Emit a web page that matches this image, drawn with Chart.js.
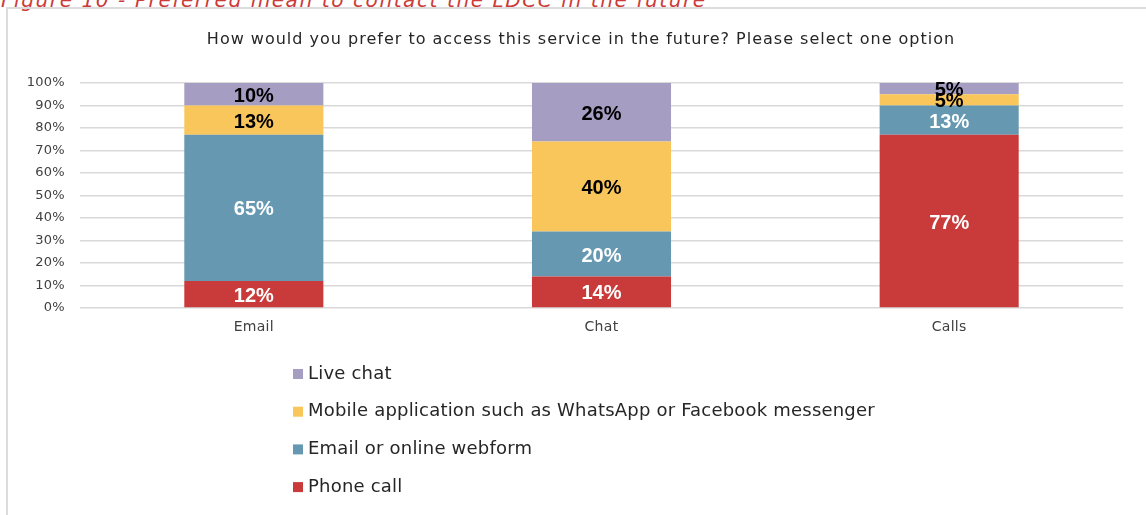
<!DOCTYPE html>
<html>
<head>
<meta charset="utf-8">
<script src="https://cdn.jsdelivr.net/npm/chart.js@4.4.1/dist/chart.umd.min.js"></script>
<style>
  html, body { margin: 0; padding: 0; background: #fff; overflow: hidden; }
  #wrap { position: relative; width: 1146px; height: 515px; overflow: hidden; }
  #caption {
    position: absolute; left: 1px; top: -12px; line-height: 20px;
    font: italic 20px "DejaVu Sans", sans-serif; letter-spacing: 1.6px;
    color: #cc3a3a; white-space: nowrap;
  }
  #frame {
    position: absolute; left: 6px; top: 7px; width: 1300px; height: 700px;
    border-top: 2px solid #dcdcdc; border-left: 2px solid #dcdcdc;
  }
  canvas { position: absolute; left: 0; top: 0; }
</style>
</head>
<body>
<div id="wrap">
  <div id="caption">Figure 10 - Preferred mean to contact the LDCC in the future</div>
  <div id="frame"></div>
  <canvas id="chart" width="1146" height="515"></canvas>
</div>
<script>
// Survey answers, share of respondents per current contact channel (%)
const categories = ['Email', 'Chat', 'Calls'];
const phoneCall    = [12, 14, 77];
const emailWebform = [65, 20, 13];
const mobileApp    = [13, 40, 5];
const liveChat     = [10, 26, 5];
const yTicks = [0, 10, 20, 30, 40, 50, 60, 70, 80, 90, 100];

const seriesNames = [
  'Phone call',
  'Email or online webform',
  'Mobile application such as WhatsApp or Facebook messenger',
  'Live chat'
];
const chartTitle = 'How would you prefer to access this service in the future? Please select one option';
const seriesValues = [phoneCall, emailWebform, mobileApp, liveChat];
const seriesColors = ['#c83b3a', '#6699b1', '#f8c65a', '#a59dc2'];
const labelColors  = ['#ffffff', '#ffffff', '#000000', '#000000'];

const FONT = '"DejaVu Sans", sans-serif';
const LABEL_FONT = 'bold 20px "Liberation Sans", Arial, sans-serif';

// Wide lettering for every axis label
const wideText = {
  id: 'wideText',
  beforeDraw(chart) { chart.ctx.letterSpacing = '0.3px'; }
};

// Title line centred over the whole figure
const titleLine = {
  id: 'titleLine',
  afterDraw(chart) {
    const ctx = chart.ctx;
    ctx.save();
    ctx.letterSpacing = '1px';
    ctx.font = '16px ' + FONT;
    ctx.fillStyle = '#262626';
    ctx.textAlign = 'center';
    ctx.textBaseline = 'middle';
    ctx.fillText(chartTitle, 581, 40);
    ctx.restore();
  }
};

// Percentage written in the middle of every stacked segment
const segmentLabels = {
  id: 'segmentLabels',
  afterDatasetsDraw(chart) {
    const ctx = chart.ctx;
    ctx.save();
    ctx.letterSpacing = '0px';
    ctx.font = LABEL_FONT;
    ctx.textAlign = 'center';
    ctx.textBaseline = 'middle';
    chart.data.datasets.forEach((ds, i) => {
      const meta = chart.getDatasetMeta(i);
      meta.data.forEach((bar, j) => {
        const p = bar.getProps(['x', 'y', 'base'], true);
        ctx.fillStyle = labelColors[i];
        ctx.fillText(ds.data[j] + '%', p.x, (p.y + p.base) / 2 + 2);
      });
    });
    ctx.restore();
  }
};

// Vertical legend listed below the axis, top series first
const stackedLegend = {
  id: 'stackedLegend',
  afterDraw(chart) {
    const ctx = chart.ctx;
    const x0 = 293, y0 = 374, step = 37.7, box = 10;
    ctx.save();
    ctx.letterSpacing = '0.2px';
    ctx.font = '18px ' + FONT;
    ctx.textBaseline = 'middle';
    ctx.textAlign = 'left';
    const order = chart.data.datasets.map((d, i) => i).reverse();
    order.forEach((i, k) => {
      const ds = chart.data.datasets[i];
      const y = y0 + k * step;
      ctx.fillStyle = ds.backgroundColor;
      ctx.fillRect(x0, y - box / 2, box, box);
      ctx.fillStyle = '#262626';
      ctx.fillText(ds.label, x0 + 15, y);
    });
    ctx.restore();
  }
};

new Chart(document.getElementById('chart'), {
  type: 'bar',
  data: {
    labels: categories,
    datasets: seriesNames.map((name, i) => ({
      label: name,
      data: seriesValues[i],
      backgroundColor: seriesColors[i],
      borderWidth: 0,
      categoryPercentage: 1,
      barPercentage: 0.4
    }))
  },
  options: {
    responsive: false,
    animation: false,
    events: [],
    layout: { padding: { left: 0, right: 23, top: 83, bottom: 177 } },
    plugins: {
      legend: { display: false },
      tooltip: { enabled: false },
      title: { display: false }
    },
    scales: {
      x: {
        stacked: true,
        grid: { display: false, drawTicks: false },
        border: { display: false },
        ticks: { color: '#404040', font: { family: FONT, size: 14 }, padding: 11 },
        afterFit(scale) { scale.height = 30; }
      },
      y: {
        stacked: true,
        min: 0,
        max: 100,
        afterBuildTicks(scale) { scale.ticks = yTicks.map(v => ({ value: v })); },
        grid: { color: '#d9d9d9', lineWidth: 1.5, drawTicks: false },
        border: { display: false },
        ticks: {
          color: '#404040',
          font: { family: FONT, size: 13 },
          padding: 15,
          callback: v => v + '%'
        },
        afterFit(scale) { scale.width = 80; }
      }
    }
  },
  plugins: [wideText, titleLine, segmentLabels, stackedLegend]
});
</script>
</body>
</html>
